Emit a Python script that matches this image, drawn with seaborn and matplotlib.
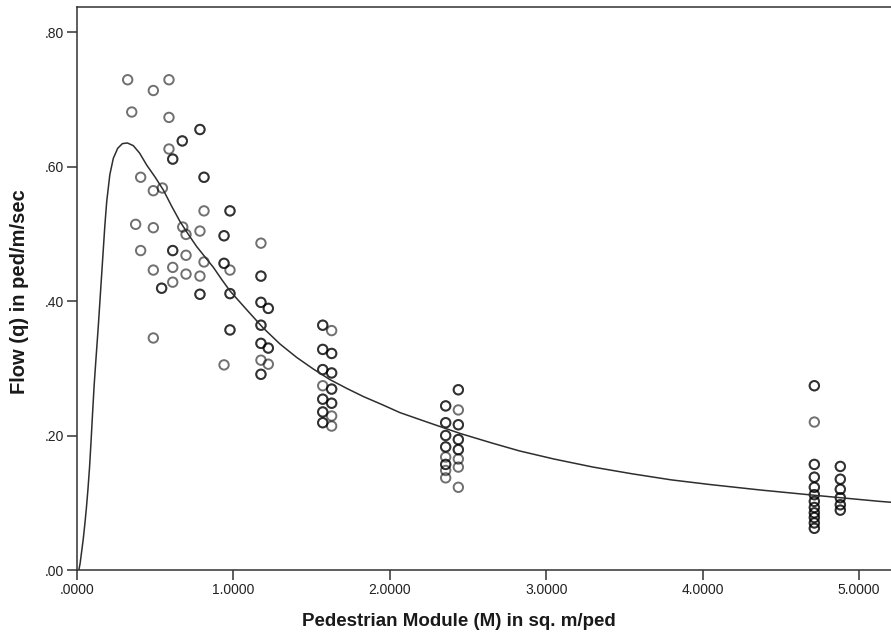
import matplotlib
matplotlib.use("Agg")
import matplotlib.pyplot as plt
import seaborn as sns
import pandas as pd
from matplotlib import font_manager

# ---- data ----
# scatter observations (module M, flow q); repeated entries are overlapping duplicate points
module_m = [
    0.324, 0.350, 0.375, 0.407, 0.407,
    0.488, 0.488, 0.488, 0.488, 0.488, 0.546, 0.541, 0.541,
    0.588, 0.588, 0.588, 0.612, 0.612, 0.612, 0.612, 0.612, 0.612,
    0.673, 0.673, 0.676, 0.697, 0.697, 0.697,
    0.786, 0.786, 0.812, 0.812, 0.812, 0.786, 0.812, 0.786, 0.786, 0.786,
    0.978, 0.978, 0.940, 0.940, 0.940, 0.940, 0.978, 0.978, 0.978, 0.978, 0.978, 0.940,
    1.176, 1.176, 1.176, 1.176, 1.176, 1.223, 1.223, 1.176, 1.176, 1.176, 1.176,
    1.223, 1.223, 1.176, 1.223, 1.176, 1.176,
    1.571, 1.571, 1.628, 1.571, 1.571, 1.628, 1.628, 1.571, 1.571, 1.628, 1.628,
    1.571, 1.628, 1.628, 1.571, 1.571, 1.628, 1.628, 1.571, 1.571, 1.628, 1.571, 1.571, 1.628,
    2.438, 2.438, 2.357, 2.357, 2.438, 2.357, 2.357, 2.438, 2.438, 2.357, 2.357, 2.438, 2.438,
    2.357, 2.357, 2.438, 2.438, 2.357, 2.438, 2.357, 2.357, 2.438, 2.357, 2.357, 2.438,
    4.714, 4.714, 4.714, 4.714, 4.714, 4.714, 4.714, 4.714, 4.714, 4.714, 4.714, 4.714,
    4.714, 4.714, 4.714, 4.714, 4.714, 4.714, 4.714, 4.714, 4.714, 4.714, 4.714,
    4.880, 4.880, 4.880, 4.880, 4.880, 4.880, 4.880, 4.880, 4.880, 4.880, 4.880, 4.880,
]
flow_q = [
    0.729, 0.681, 0.514, 0.584, 0.475,
    0.713, 0.564, 0.509, 0.446, 0.345, 0.568, 0.419, 0.419,
    0.729, 0.673, 0.626, 0.611, 0.611, 0.475, 0.475, 0.450, 0.428,
    0.638, 0.638, 0.510, 0.499, 0.468, 0.440,
    0.655, 0.655, 0.584, 0.584, 0.534, 0.504, 0.458, 0.437, 0.410, 0.410,
    0.534, 0.534, 0.497, 0.497, 0.456, 0.456, 0.446, 0.411, 0.411, 0.357, 0.357, 0.305,
    0.486, 0.437, 0.437, 0.398, 0.398, 0.389, 0.389, 0.364, 0.364, 0.337, 0.337,
    0.330, 0.330, 0.312, 0.306, 0.291, 0.291,
    0.364, 0.364, 0.356, 0.328, 0.328, 0.322, 0.322, 0.298, 0.298, 0.293, 0.293,
    0.274, 0.269, 0.269, 0.254, 0.254, 0.248, 0.248, 0.235, 0.235, 0.229, 0.219, 0.219, 0.214,
    0.268, 0.268, 0.244, 0.244, 0.238, 0.219, 0.219, 0.216, 0.216, 0.200, 0.200, 0.194, 0.194,
    0.183, 0.183, 0.179, 0.179, 0.168, 0.165, 0.157, 0.157, 0.153, 0.148, 0.137, 0.123,
    0.274, 0.274, 0.220, 0.157, 0.157, 0.138, 0.138, 0.123, 0.123, 0.112, 0.112, 0.102,
    0.102, 0.093, 0.093, 0.085, 0.085, 0.078, 0.078, 0.070, 0.070, 0.062, 0.062,
    0.154, 0.154, 0.135, 0.135, 0.120, 0.120, 0.1075, 0.1075, 0.097, 0.097, 0.089, 0.089,
]
# fitted curve, points
curve_m = [0.012, 0.020, 0.030, 0.040, 0.050, 0.060, 0.070, 0.080, 0.090, 0.100, 0.110,
           0.121, 0.136, 0.150, 0.164, 0.178, 0.190, 0.210, 0.232, 0.260, 0.290, 0.322,
           0.360, 0.400, 0.446, 0.500, 0.552, 0.605, 0.659, 0.712, 0.765, 0.820, 0.872,
           0.925, 0.978, 1.085, 1.190, 1.298, 1.405, 1.510, 1.618, 1.725, 1.830, 1.950,
           2.065, 2.250, 2.450, 2.650, 2.830, 3.050, 3.300, 3.550, 3.800, 4.050, 4.367,
           4.720, 5.134, 5.300]
curve_q = [0.000, 0.010, 0.028, 0.046, 0.068, 0.092, 0.120, 0.152, 0.192, 0.235, 0.276,
           0.313, 0.362, 0.412, 0.462, 0.512, 0.548, 0.588, 0.612, 0.627, 0.634, 0.635,
           0.631, 0.620, 0.602, 0.584, 0.565, 0.541, 0.518, 0.499, 0.481, 0.465, 0.450,
           0.432, 0.415, 0.387, 0.360, 0.336, 0.316, 0.299, 0.283, 0.270, 0.258, 0.246,
           0.234, 0.219, 0.203, 0.189, 0.177, 0.165, 0.153, 0.143, 0.134, 0.127, 0.119,
           0.111, 0.102, 0.099]
x_ticks = [0, 1, 2, 3, 4, 5]
x_tick_labels = [".0000", "1.0000", "2.0000", "3.0000", "4.0000", "5.0000"]
y_ticks = [0.0, 0.2, 0.4, 0.6, 0.8]
y_tick_labels = [".00", ".20", ".40", ".60", ".80"]
x_title = "Pedestrian Module (M) in sq. m/ped"
y_title = "Flow (q) in ped/m/sec"

pts = pd.DataFrame({"M": module_m, "q": flow_q})
curve = pd.DataFrame({"M": curve_m, "q": curve_q})

sns.set_style("ticks")
names = {f.name for f in font_manager.fontManager.ttflist}
label_font = "Liberation Sans Narrow" if "Liberation Sans Narrow" in names else "Liberation Sans"
plt.rcParams["font.family"] = ["Liberation Sans", "DejaVu Sans"]

fig = plt.figure(figsize=(8.91, 6.32), dpi=100)
ax = fig.add_axes([77 / 891, 62 / 632, 829 / 891, 563 / 632])

sns.lineplot(data=curve, x="M", y="q", ax=ax, sort=False, estimator=None,
             color="#2e2e2e", linewidth=1.1)
sns.scatterplot(data=pts, x="M", y="q", ax=ax, s=46, marker="o",
                facecolors="none", edgecolor=(0, 0, 0, 0.56), linewidth=1.4)

ax.set_xlim(0, 5.3)
ax.set_ylim(0, 563 / 672.5)
ax.set_xticks(x_ticks)
ax.set_xticklabels(x_tick_labels)
ax.set_yticks(y_ticks)
ax.set_yticklabels(y_tick_labels)
ax.tick_params(axis="both", direction="out", length=7, width=1.1, color="#333333",
               labelsize=10, labelcolor="#222222", pad=2)
for side in ["left", "bottom", "top", "right"]:
    ax.spines[side].set_visible(True)
    ax.spines[side].set_linewidth(1.1)
    ax.spines[side].set_color("#333333")

ax.set_xlabel(x_title, fontsize=13.5, fontweight="bold", family=[label_font, "DejaVu Sans"],
              color="#1a1a1a")
ax.set_ylabel(y_title, fontsize=14.5, fontweight="bold", family=[label_font, "DejaVu Sans"],
              color="#1a1a1a")
ax.xaxis.set_label_coords((459 - 77) / 829, -43 / 563)
ax.yaxis.set_label_coords(-48 / 829, (570 - 292) / 563)

fig.savefig("out.png", dpi=100)
